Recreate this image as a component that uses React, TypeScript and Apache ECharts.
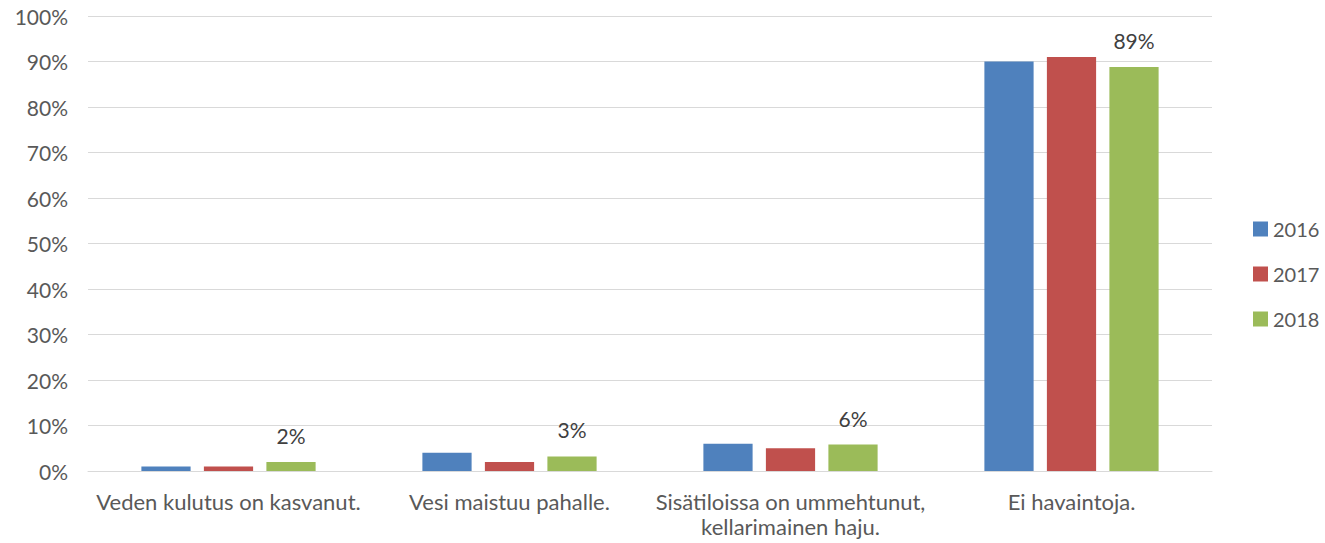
import React, { useEffect, useRef } from "react";
import * as echarts from "echarts";

const categories = [
  "Veden kulutus on kasvanut.",
  "Vesi maistuu pahalle.",
  "Sisätiloissa on ummehtunut,\nkellarimainen haju.",
  "Ei havaintoja.",
];
const seriesNames = ["2016", "2017", "2018"];
const values2016 = [1, 4, 6, 90];
const values2017 = [1, 2, 5, 91];
const values2018 = [2, 3.2, 5.8, 88.8];
const labels2018 = ["2%", "3%", "6%", "89%"];
const colors = ["#4F81BD", "#C0504D", "#9BBB59"];

const FONT = "Lato, sans-serif";

export default function App() {
  const ref = useRef<HTMLDivElement>(null);
  useEffect(() => {
    if (!ref.current) return;
    const chart = echarts.init(ref.current, null, { renderer: "svg" });
    const data = [values2016, values2017, values2018];
    chart.setOption({
      animation: false,
      textStyle: { fontFamily: FONT },
      grid: { left: 88, right: 113, top: 16, bottom: 72, containLabel: false },
      legend: {
        orient: "vertical",
        left: 1248,
        top: 214,
        itemWidth: 15,
        itemHeight: 15,
        itemGap: 25,
        icon: "rect",
        data: seriesNames,
        textStyle: { fontSize: 20, color: "#595959", fontFamily: FONT },
      },
      xAxis: {
        type: "category",
        data: categories,
        axisLine: { lineStyle: { color: "#d9d9d9", width: 1 } },
        axisTick: { show: false },
        axisLabel: {
          fontSize: 22,
          color: "#595959",
          margin: 18,
          lineHeight: 25,
          interval: 0,
          fontFamily: FONT,
        },
      },
      yAxis: {
        type: "value",
        min: 0,
        max: 100,
        interval: 10,
        axisLine: { show: false },
        axisTick: { show: false },
        splitLine: { lineStyle: { color: "#d9d9d9", width: 1 } },
        axisLabel: {
          formatter: "{value}%",
          fontSize: 21,
          color: "#595959",
          margin: 20,
          fontFamily: FONT,
        },
      },
      series: seriesNames.map((name, i) => ({
        name,
        type: "bar",
        data: data[i],
        barGap: "27%",
        barCategoryGap: "38%",
        itemStyle: { color: colors[i] },
        label:
          i === 2
            ? {
                show: true,
                position: "top",
                distance: 16,
                fontSize: 21,
                color: "#404040",
                fontFamily: FONT,
                formatter: (p: any) => labels2018[p.dataIndex],
              }
            : { show: false },
      })),
    });
    return () => chart.dispose();
  }, []);
  return (
    <div
      ref={ref}
      style={{ position: "absolute", left: 0, top: 0, width: 1325, height: 543 }}
    />
  );
}
